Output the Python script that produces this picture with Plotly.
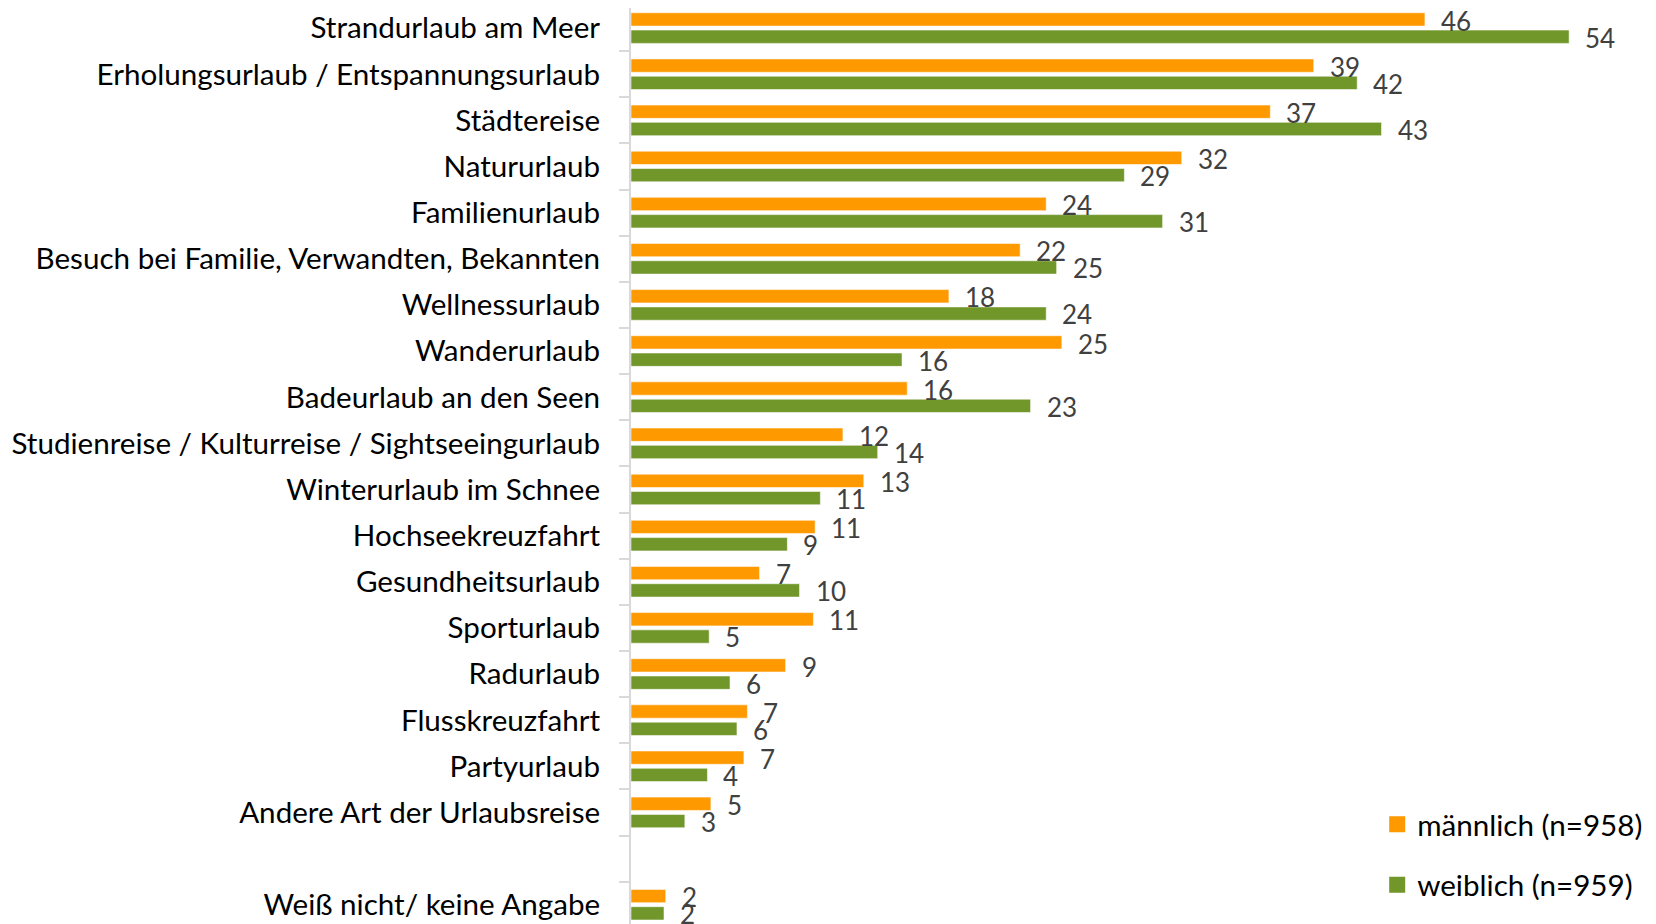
import plotly.graph_objects as go

categories = [
    "Strandurlaub am Meer",
    "Erholungsurlaub / Entspannungsurlaub",
    "Städtereise",
    "Natururlaub",
    "Familienurlaub",
    "Besuch bei Familie, Verwandten, Bekannten",
    "Wellnessurlaub",
    "Wanderurlaub",
    "Badeurlaub an den Seen",
    "Studienreise / Kulturreise / Sightseeingurlaub",
    "Winterurlaub im Schnee",
    "Hochseekreuzfahrt",
    "Gesundheitsurlaub",
    "Sporturlaub",
    "Radurlaub",
    "Flusskreuzfahrt",
    "Partyurlaub",
    "Andere Art der Urlaubsreise",
    " ",
    "Weiß nicht/ keine Angabe",
]

maennlich = [45.7, 39.3, 36.8, 31.7, 23.9, 22.4, 18.3, 24.8, 15.9, 12.2,
             13.4, 10.6, 7.4, 10.5, 8.9, 6.7, 6.5, 4.6, None, 2.0]
weiblich = [54.0, 41.8, 43.2, 28.4, 30.6, 24.5, 23.9, 15.6, 23.0, 14.2,
            10.9, 9.0, 9.7, 4.5, 5.7, 6.1, 4.4, 3.1, None, 1.9]

maennlich_labels = ["46", "39", "37", "32", "24", "22", "18", "25", "16", "12",
                    "13", "11", "7", "11", "9", "7", "7", "5", "", "2"]
weiblich_labels = ["54", "42", "43", "29", "31", "25", "24", "16", "23", "14",
                   "11", "9", "10", "5", "6", "6", "4", "3", "", "2"]

series_names = ["männlich (n=958)", "weiblich (n=959)"]

ORANGE = "#FF9900"
GREEN = "#71962A"
FONT = "Lato"
BORDER = dict(color="rgba(255,255,255,0.55)", width=1)

fig = go.Figure()
fig.add_trace(go.Bar(
    y=categories, x=maennlich, orientation="h", name=series_names[0],
    marker=dict(color=ORANGE, line=BORDER), showlegend=False,
))
fig.add_trace(go.Bar(
    y=categories, x=weiblich, orientation="h", name=series_names[1],
    marker=dict(color=GREEN, line=BORDER), showlegend=False,
))
# legend entries with larger square symbols
for name, col, grp in [(series_names[0], ORANGE, "m"), (series_names[1], GREEN, "w")]:
    fig.add_trace(go.Scatter(
        x=[None], y=[None], mode="markers", name=name, legendgroup=grp,
        marker=dict(symbol="square", size=17, color=col),
        hoverinfo="skip",
    ))

annotations = []
for cat, v, lab in zip(categories, maennlich, maennlich_labels):
    if v is None:
        continue
    annotations.append(dict(x=v, y=cat, xref="x", yref="y", text=lab,
                            showarrow=False, xanchor="left", yanchor="middle",
                            xshift=14, yshift=7.5,
                            font=dict(family=FONT, size=26, color="#404040")))
for cat, v, lab in zip(categories, weiblich, weiblich_labels):
    if v is None:
        continue
    annotations.append(dict(x=v, y=cat, xref="x", yref="y", text=lab,
                            showarrow=False, xanchor="left", yanchor="middle",
                            xshift=14, yshift=-9.5,
                            font=dict(family=FONT, size=26, color="#404040")))

fig.update_layout(
    width=1648, height=916,
    margin=dict(l=623, r=0, t=0, b=0),
    paper_bgcolor="white", plot_bgcolor="white",
    barmode="group", bargap=0.25, bargroupgap=0.23,
    font=dict(family=FONT, size=29.6, color="#000000"),
    showlegend=True,
    legend=dict(x=0.728, y=0.137, xanchor="left", yanchor="top",
                font=dict(family=FONT, size=29.6, color="#000000"),
                traceorder="grouped", tracegroupgap=19,
                itemsizing="trace", bgcolor="rgba(0,0,0,0)"),
    annotations=annotations,
)
fig.update_xaxes(range=[0, 59], showgrid=False, zeroline=False,
                 showticklabels=False, showline=False, ticks="")
fig.update_yaxes(type="category", categoryorder="array", categoryarray=categories,
                 range=[19.418, -0.435], showgrid=False, zeroline=False,
                 showline=True, linecolor="#D9D9D9", linewidth=2,
                 ticks="outside", tickson="boundaries", ticklen=10,
                 tickcolor="#D9D9D9", tickwidth=1.5,
                 ticklabelstandoff=23,
                 tickfont=dict(family=FONT, size=29.6, color="#000000"))

fig.write_html("out.html")
